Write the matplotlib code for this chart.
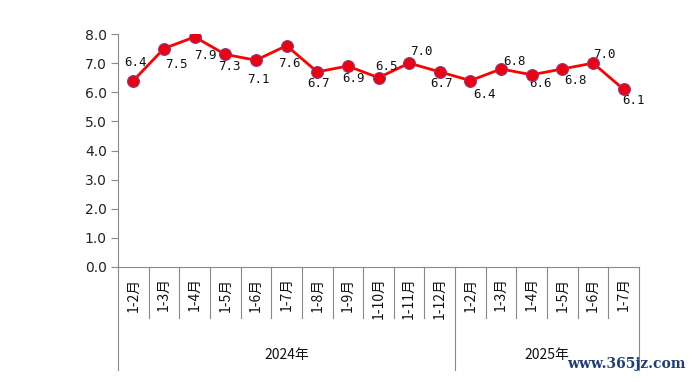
import matplotlib
matplotlib.use("Agg")
import matplotlib.pyplot as plt
import matplotlib.transforms as mtransforms

plt.rcParams['font.family'] = ['Noto Sans CJK SC', 'DejaVu Sans']

# ---- 数据 ----
months_2024 = ["1-2月", "1-3月", "1-4月", "1-5月", "1-6月", "1-7月", "1-8月",
               "1-9月", "1-10月", "1-11月", "1-12月"]
months_2025 = ["1-2月", "1-3月", "1-4月", "1-5月", "1-6月", "1-7月"]
values_2024 = [6.4, 7.5, 7.9, 7.3, 7.1, 7.6, 6.7, 6.9, 6.5, 7.0, 6.7]
values_2025 = [6.4, 6.8, 6.6, 6.8, 7.0, 6.1]
years = ["2024年", "2025年"]
yticks = [0.0, 1.0, 2.0, 3.0, 4.0, 5.0, 6.0, 7.0, 8.0]

# 数据标签偏移（像素，相对点中心，y 向下）
label_off = [(2, -18), (12, 16), (11, 19), (4, 12), (2, 19), (3, 18), (1, 12),
             (6, 12), (8, -11), (12, -12), (2, 12),
             (14, 14), (13, -7), (9, 9), (13, 12), (11, -9), (10, 11)]

cats = months_2024 + months_2025
vals = values_2024 + values_2025
n = len(cats)
xs = list(range(n))

fig = plt.figure(figsize=(6.92, 3.82), dpi=100)
ax = fig.add_axes([118 / 692, 1 - 267 / 382, 521 / 692, 233 / 382])

ax.plot(xs, vals, "-", color="#ff0000", lw=2.0, zorder=3)
ax.plot(xs, vals, "o", ms=8.5, mfc="#ee0011", mec="#8a3a7a", mew=0.8, zorder=4)

for x, v, (dx, dy) in zip(xs, vals, label_off):
    ax.annotate(f"{v:.1f}", (x, v), xytext=(dx * 0.72, -dy * 0.72),
                textcoords="offset points", ha="center", va="center",
                fontsize=9, family="DejaVu Sans Mono", color="#111111")

ax.set_xlim(-0.5, n - 0.5)
ax.set_ylim(0, 8)
ax.set_yticks(yticks)
ax.set_yticklabels([f"{t:.1f}" for t in yticks], family="DejaVu Sans")
ax.tick_params(axis="y", length=5, color="#888888", labelsize=10, labelcolor="#222222", pad=3)
ax.set_xticks([])
for s in ("top", "right"):
    ax.spines[s].set_visible(False)
ax.spines["left"].set_color("#888888")
ax.spines["bottom"].set_color("#888888")

# ---- 分类轴：分隔线 + 竖排标签 + 年份 ----
trans = mtransforms.blended_transform_factory(ax.transData, ax.transAxes)
short_y = (267 - 318) / 233
long_y = (267 - 370) / 233
bounds = [i - 0.5 for i in range(n + 1)]
group_edges = [-0.5, len(months_2024) - 0.5, n - 0.5]
for b in bounds:
    lo = long_y if b in group_edges else short_y
    ax.plot([b, b], [0, lo], color="#888888", lw=0.8, transform=trans, clip_on=False)

for x, c in zip(xs, cats):
    ax.text(x, -0.045, c, rotation=90, ha="center", va="top", fontsize=10,
            transform=trans, color="#111111")

for i, y in enumerate(years):
    cx = (group_edges[i] + group_edges[i + 1]) / 2
    ax.text(cx, (267 - 355) / 233, y, ha="center", va="center", fontsize=10,
            transform=trans, color="#111111")

fig.text(626 / 692, 1 - 364 / 382, "www.365jz.com", ha="center", va="center",
         fontsize=10, fontweight="bold", family="DejaVu Serif", color="#1f3d7a")

fig.savefig("out.png", dpi=100)
